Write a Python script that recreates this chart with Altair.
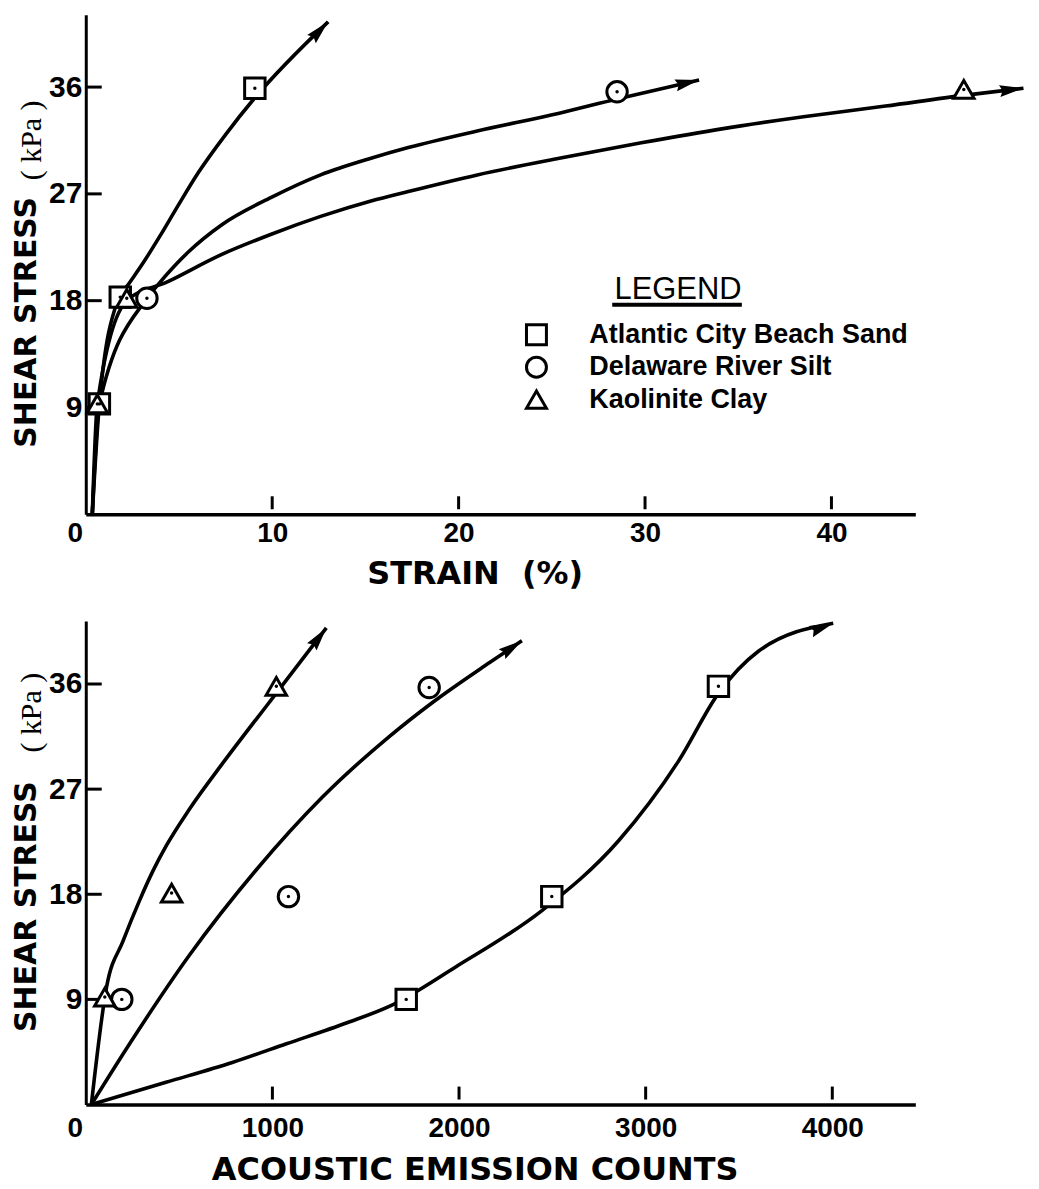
import math
import altair as alt
import pandas as pd

# ---------------- data ----------------
materials = ["Atlantic City Beach Sand", "Delaware River Silt", "Kaolinite Clay"]
shapes = ["square", "circle", "triangle-up"]

# Top panel: shear stress (kPa) vs strain (%)
top_sand_curve_x = [0.35, 0.73, 1.73, 2.3, 3.0, 4.0, 4.87, 6.04, 7.5, 9.07, 13.0]
top_sand_curve_y = [0.0, 9.3, 18.1, 19.4, 21.0, 23.5, 25.8, 28.8, 32.0, 35.1, 41.5]
top_silt_curve_x = [0.35, 0.73, 3.28, 3.9, 5.5, 7.3, 9.95, 12.6, 15.3, 17.3, 21.0, 25.4, 28.5, 32.9]
top_silt_curve_y = [0.0, 9.3, 18.2, 19.4, 22.1, 24.4, 26.7, 28.6, 30.0, 30.9, 32.3, 33.8, 35.0, 36.6]
top_clay_curve_x = [0.35, 0.62, 2.2, 4.4, 7.3, 9.95, 12.6, 15.3, 17.3, 21.0, 25.4, 29.8, 34.2, 38.5, 42.9, 47.1, 50.3]
top_clay_curve_y = [0.0, 9.3, 18.0, 19.6, 21.9, 23.6, 25.1, 26.4, 27.2, 28.6, 30.0, 31.3, 32.5, 33.5, 34.4, 35.3, 35.9]

top_sand_pts_x = [0.73, 1.85, 9.07]
top_sand_pts_y = [9.3, 18.3, 35.9]
top_silt_pts_x = [3.28, 28.5]
top_silt_pts_y = [18.2, 35.6]
top_clay_pts_x = [0.62, 2.2, 47.1]
top_clay_pts_y = [9.3, 18.2, 35.8]

top_x_ticks = [0, 10, 20, 30, 40]
top_y_ticks = [9, 18, 27, 36]

# Bottom panel: shear stress (kPa) vs acoustic emission counts
bot_sand_curve_x = [30, 430, 785, 1075, 1400, 1626, 1984, 2444, 2856, 3176, 3390, 3604, 4005]
bot_sand_curve_y = [0.0, 1.9, 3.6, 5.2, 7.0, 8.4, 11.8, 16.6, 22.6, 29.4, 35.2, 38.8, 41.2]
bot_silt_curve_x = [30, 235, 556, 914, 1267, 1626, 1856, 2160, 2337]
bot_silt_curve_y = [0.0, 5.2, 12.8, 20.1, 26.3, 31.5, 34.4, 37.8, 39.7]
bot_clay_curve_x = [30, 112, 200, 289, 360, 433, 556, 733, 914, 1011, 1289]
bot_clay_curve_y = [0.0, 10.1, 14.0, 17.5, 20.0, 22.2, 25.3, 29.2, 33.0, 35.0, 40.8]

bot_sand_pts_x = [1717, 2497, 3390]
bot_sand_pts_y = [9.0, 17.8, 35.8]
bot_silt_pts_x = [193, 1086, 1840]
bot_silt_pts_y = [9.0, 17.8, 35.7]
bot_clay_pts_x = [102, 460, 1021]
bot_clay_pts_y = [9.2, 18.1, 35.8]

bot_x_ticks = [0, 1000, 2000, 3000, 4000]
bot_y_ticks = [9, 18, 27, 36]

# ---------------- layout / style ----------------
W = 832
TOP_H, BOT_H = 501, 485
TOP_XDOM, TOP_YDOM = [0, 44.5], [0, 42.1]
BOT_XDOM, BOT_YDOM = [0, 4445], [0, 41.4]
HEAD_SIZE = 576                       # arrowhead symbol area (px^2)
HEAD_HALF = math.sqrt(HEAD_SIZE) / 2  # half length of the arrowhead in px
ARROW_PATH = "M0,-1L0.5,1L0,0.75L-0.5,1Z"
LABEL_FONT = "Liberation Sans"
TITLE_FONT = "DejaVu Sans"
SHAPE_SCALE = alt.Scale(domain=materials, range=shapes)


def curves_df(xs_list, ys_list):
    rows = []
    for m, xs, ys in zip(materials, xs_list, ys_list):
        for i, (a, b) in enumerate(zip(xs, ys)):
            rows.append({"x": a, "y": b, "material": m, "i": i})
    return pd.DataFrame(rows)


def arrows_df(xs_list, ys_list, xdom, ydom, h):
    sx = W / (xdom[1] - xdom[0])
    sy = h / (ydom[1] - ydom[0])
    rows = []
    for m, xs, ys in zip(materials, xs_list, ys_list):
        dx = (xs[-1] - xs[-2]) * sx
        dy = (ys[-1] - ys[-2]) * sy
        n = math.hypot(dx, dy)
        ux, uy = dx / n, dy / n
        ang = math.degrees(math.atan2(dx, dy)) % 360
        # symbol centre sits half an arrowhead behind the tip
        rows.append({"x": xs[-1] - HEAD_HALF * ux / sx,
                     "y": ys[-1] - HEAD_HALF * uy / sy,
                     "angle": ang, "material": m})
    return pd.DataFrame(rows)


def panel(curve_x, curve_y, pts_x, pts_y, xdom, ydom, h, xticks, yticks,
          xtitle, xlabel_pad, xtitle_y, ytitle_y, kpa_y, with_legend):
    cdf = curves_df(curve_x, curve_y)
    pdf = curves_df(pts_x, pts_y)
    adf = arrows_df(curve_x, curve_y, xdom, ydom, h)

    X = alt.X("x:Q", scale=alt.Scale(domain=xdom, nice=False, zero=False),
              axis=alt.Axis(values=xticks, title=xtitle, ticks=False, grid=False,
                            format="d",
                            domainWidth=3.5, domainColor="black",
                            labelFont=LABEL_FONT, labelFontWeight="bold",
                            labelFontSize=28, labelColor="black",
                            labelPadding=xlabel_pad,
                            labelOffset={"condition": {"test": "datum.value === 0",
                                                       "value": -11},
                                         "value": 0},
                            labelFlush=False, labelOverlap=False,
                            titleFont=TITLE_FONT, titleFontWeight="bold",
                            titleFontSize=32, titleColor="black",
                            titleBaseline="top", titleX=390, titleY=xtitle_y))
    Y = alt.Y("y:Q", scale=alt.Scale(domain=ydom, nice=False, zero=False),
              axis=alt.Axis(values=yticks, title="SHEAR\u00a0STRESS", ticks=False,
                            grid=False, domainWidth=3, domainColor="black",
                            labelFont=LABEL_FONT, labelFontWeight="bold",
                            labelFontSize=30, labelColor="black", labelPadding=4,
                            labelFlush=False, labelOverlap=False,
                            titleFont=TITLE_FONT, titleFontWeight="bold",
                            titleFontSize=30, titleColor="black",
                            titleAngle=270, titleAlign="center", titleBaseline="middle",
                            titleX=-59, titleY=ytitle_y))

    lines = alt.Chart(cdf).mark_line(color="black", strokeWidth=3.6,
                                     interpolate="monotone").encode(
        x=X, y=Y, detail="material:N", order="i:Q")

    markers = alt.Chart(pdf).mark_point(filled=False, fill="white", stroke="black",
                                        strokeWidth=3, size=420, opacity=1).encode(
        x=X, y=Y, shape=alt.Shape("material:N", scale=SHAPE_SCALE, legend=None))
    dots = alt.Chart(pdf).mark_point(shape="circle", filled=True, color="black",
                                     size=12, opacity=1).encode(x=X, y=Y)
    heads = alt.Chart(adf).mark_point(shape=ARROW_PATH, filled=True, color="black",
                                      size=HEAD_SIZE, opacity=1).encode(
        x=X, y=Y, angle=alt.Angle("angle:Q", scale=None))

    xt = alt.Chart(pd.DataFrame({"x": [t for t in xticks if t > 0]})).mark_rule(
        color="black", strokeWidth=3).encode(x=X, y=alt.value(h - 5), y2=alt.value(h - 18))
    yt = alt.Chart(pd.DataFrame({"y": yticks})).mark_rule(
        color="black", strokeWidth=3).encode(y=Y, x=alt.value(0), x2=alt.value(16))

    kpa = alt.Chart(pd.DataFrame({"t": ["(\u00a0kPa\u00a0)"]})).mark_text(
        font="Liberation Serif", fontSize=30, angle=270, align="center",
        baseline="middle", color="black").encode(
        text="t:N", x=alt.value(-54), y=alt.value(kpa_y))

    layers = [lines, xt, yt, markers, dots, heads, kpa]
    if with_legend:
        # key placed in the upper panel: heading, underline, symbols and names
        key_df = pd.DataFrame({"material": materials,
                               "ky": [321 + 32.5 * i for i in range(len(materials))]})
        lg = alt.Chart(pd.DataFrame({"t": ["LEGEND"]})).mark_text(
            font=LABEL_FONT, fontSize=31, align="center", baseline="alphabetic",
            color="black").encode(text="t:N", x=alt.value(594), y=alt.value(285))
        ul = alt.Chart(pd.DataFrame({"t": [0]})).mark_rule(
            color="black", strokeWidth=4).encode(
            x=alt.value(528), x2=alt.value(658), y=alt.value(291))
        ksym = alt.Chart(key_df).mark_point(filled=False, fill="white", stroke="black",
                                            strokeWidth=3, size=400, opacity=1).encode(
            x=alt.value(452), y=alt.Y("ky:Q", scale=None, axis=None),
            shape=alt.Shape("material:N", scale=SHAPE_SCALE, legend=None))
        ktxt = alt.Chart(key_df).mark_text(
            font=LABEL_FONT, fontWeight="bold", fontSize=27, align="left",
            baseline="middle", color="black").encode(
            x=alt.value(505), y=alt.Y("ky:Q", scale=None, axis=None),
            text="material:N")
        layers += [lg, ul, ksym, ktxt]
    return alt.layer(*layers).properties(width=W, height=h)


top = panel([top_sand_curve_x, top_silt_curve_x, top_clay_curve_x],
            [top_sand_curve_y, top_silt_curve_y, top_clay_curve_y],
            [top_sand_pts_x, top_silt_pts_x, top_clay_pts_x],
            [top_sand_pts_y, top_silt_pts_y, top_clay_pts_y],
            TOP_XDOM, TOP_YDOM, TOP_H, top_x_ticks, top_y_ticks,
            "STRAIN\u00a0\u00a0(%)", 5, 44, 308, 126, True)

bottom = panel([bot_sand_curve_x, bot_silt_curve_x, bot_clay_curve_x],
               [bot_sand_curve_y, bot_silt_curve_y, bot_clay_curve_y],
               [bot_sand_pts_x, bot_silt_pts_x, bot_clay_pts_x],
               [bot_sand_pts_y, bot_silt_pts_y, bot_clay_pts_y],
               BOT_XDOM, BOT_YDOM, BOT_H, bot_x_ticks, bot_y_ticks,
               "ACOUSTIC\u00a0EMISSION\u00a0COUNTS", 10, 50, 286, 92, False)

chart = alt.vconcat(top, bottom, spacing=107, bounds="flush").properties(
    padding={"left": 4, "top": 4, "right": 0, "bottom": 0},
    background="white").configure_view(stroke=None)

chart.save("out.html", embed_options={"renderer": "svg", "actions": False})
